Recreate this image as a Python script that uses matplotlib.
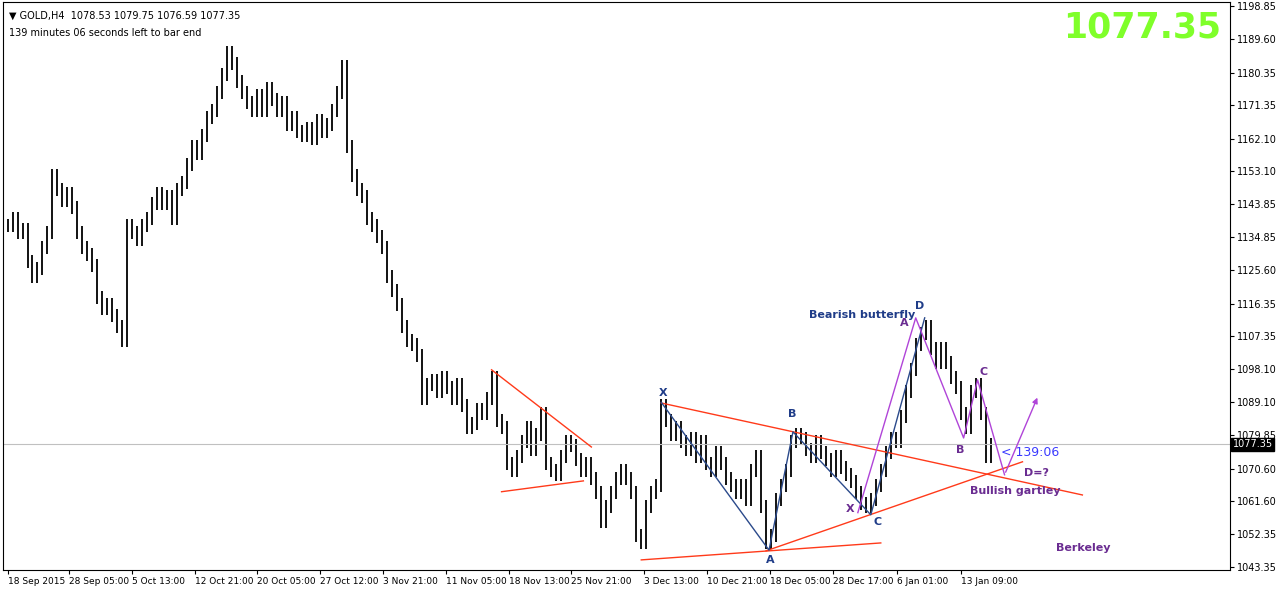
import numpy as np
import matplotlib.pyplot as plt

############### Data ###############

# H4 closes of GOLD (one bar per step)
closes = [1138, 1140, 1136, 1137, 1128, 1124, 1126, 1132, 1136, 1152,
          1148, 1145, 1147, 1143, 1136, 1132, 1130, 1127, 1118, 1115,
          1116, 1113, 1110, 1106, 1138, 1136, 1134, 1138, 1140, 1144,
          1147, 1144, 1146, 1140, 1148, 1150, 1155, 1160, 1158, 1163,
          1168, 1170, 1175, 1180, 1186, 1183, 1178, 1175, 1172, 1170,
          1174, 1170, 1176, 1173, 1170, 1172, 1166, 1168, 1164, 1163,
          1165, 1162, 1167, 1164, 1166, 1170, 1175, 1182, 1160, 1152,
          1148, 1146, 1140, 1138, 1135, 1132, 1124, 1120, 1116, 1110,
          1106, 1105, 1102, 1090, 1094, 1095, 1092, 1096, 1093, 1090,
          1094, 1088, 1082, 1083, 1087, 1086, 1090, 1096, 1084, 1082,
          1072, 1070, 1074, 1078, 1082, 1076, 1080, 1086, 1072, 1070,
          1069, 1074, 1078, 1077, 1073, 1070, 1072, 1068, 1064, 1056,
          1060, 1064, 1068, 1070, 1068, 1064, 1052, 1050, 1060, 1064,
          1066, 1088, 1084, 1080, 1082, 1078, 1076, 1079, 1074, 1078,
          1072, 1070, 1075, 1072, 1068, 1066, 1064, 1066, 1062, 1070,
          1074, 1060, 1050, 1052, 1062, 1066, 1070, 1078, 1080, 1079,
          1076, 1074, 1078, 1075, 1073, 1070, 1074, 1071, 1069, 1067,
          1064, 1061, 1060, 1062, 1066, 1070, 1075, 1079, 1078, 1085,
          1092, 1098, 1105, 1108, 1110, 1104, 1100, 1104, 1100, 1096,
          1093, 1086, 1082, 1092, 1094, 1086, 1074, 1077.35]
wick = 1.8
last_price = 1077.35

date_ticks = [0, 12.4, 25, 37.6, 50, 62.6, 75.2, 87.8, 100.4, 113,
              127.6, 140.2, 152.8, 165.4, 178.2, 191]
date_labels = ["18 Sep 2015", "28 Sep 05:00", "5 Oct 13:00", "12 Oct 21:00",
               "20 Oct 05:00", "27 Oct 12:00", "3 Nov 21:00", "11 Nov 05:00",
               "18 Nov 13:00", "25 Nov 21:00", "3 Dec 13:00", "10 Dec 21:00",
               "18 Dec 05:00", "28 Dec 17:00", "6 Jan 01:00", "13 Jan 09:00"]
price_ticks = [1198.85, 1189.60, 1180.35, 1171.35, 1162.10, 1153.10, 1143.85,
               1134.85, 1125.60, 1116.35, 1107.35, 1098.10, 1089.10, 1079.85,
               1070.60, 1061.60, 1052.35, 1043.35]

# trend lines (bar, price) pairs
red_lines = [[(97, 1098), (117, 1076.6)],
             [(99, 1064.2), (115.4, 1067.2)],
             [(131, 1088.8), (215.4, 1063.3)],
             [(127, 1045.3), (175, 1050)],
             [(152, 1047.8), (203.4, 1072.5)]]
butterfly_bars = [131, 152.6, 157.4, 173, 183.8]
butterfly_px = [1089, 1048, 1080.8, 1057.8, 1112.4]
gartley_bars = [170.4, 182, 191.6, 194.4, 199.8]
gartley_px = [1058.4, 1112.4, 1079.1, 1095.2, 1068.9]
arrow_end = (206.6, 1091)

############### Plot ###############

fig = plt.figure(figsize=(12.8, 5.93), dpi=100)
ax = fig.add_axes([0.002, 0.0388, 0.959, 0.9578])

c = np.array(closes, dtype=float)
o = np.concatenate([[c[0]], c[:-1]])
hi = np.maximum(o, c) + wick
lo = np.minimum(o, c) - wick
x = np.arange(len(c))
ax.vlines(x, lo, hi, color="black", lw=1.3)

ax.axhline(last_price, color="#c0c0c0", lw=0.8)

for ln in red_lines:
    xs, ys = zip(*ln)
    ax.plot(xs, ys, color="#ff3a1a", lw=1)
ax.plot(butterfly_bars, butterfly_px, color="#2b4a8b", lw=1)
ax.plot(gartley_bars, gartley_px, color="#b044d8", lw=1)
ax.annotate("", xy=arrow_end, xytext=(gartley_bars[-1], gartley_px[-1]),
            arrowprops=dict(arrowstyle="-|>", color="#b044d8", lw=1, mutation_scale=8))

navy = "#1f3c88"
purple = "#6a2c91"
lab = dict(fontsize=8, fontweight="bold", ha="center", va="center")
for t, xx, yy in [("X", 131.4, 1091.7), ("A", 152.8, 1045.2), ("B", 157.2, 1085.7),
                  ("C", 174.4, 1055.9), ("D", 182.8, 1115.6)]:
    ax.text(xx, yy, t, color=navy, **lab)
ax.text(171.2, 1113.3, "Bearish butterfly", color=navy, **lab)
for t, xx, yy in [("X", 168.8, 1059.5), ("A", 179.8, 1110.9), ("B", 191, 1075.8),
                  ("C", 195.6, 1097.5), ("D=?", 206.2, 1069.4)]:
    ax.text(xx, yy, t, color=purple, **lab)
ax.text(202, 1064.5, "Bullish gartley", color=purple, **lab)
ax.text(215.6, 1048.6, "Berkeley", color=purple, **lab)
ax.text(199, 1075.2, "< 139:06", color="#3a3aff", fontsize=9, ha="left", va="center")

ax.text(0.005, 0.985, "\u25bc GOLD,H4  1078.53 1079.75 1076.59 1077.35",
        transform=ax.transAxes, fontsize=7, va="top")
ax.text(0.005, 0.955, "139 minutes 06 seconds left to bar end",
        transform=ax.transAxes, fontsize=7, va="top")
ax.text(0.993, 0.955, "1077.35", transform=ax.transAxes, fontsize=25,
        fontweight="bold", color="#7fff2a", ha="right", va="center")

ax.set_xlim(-1, 245)
ax.set_ylim(1042.5, 1199.96)
ax.yaxis.tick_right()
ax.set_yticks(price_ticks)
ax.set_yticklabels([f"{p:.2f}" for p in price_ticks], fontsize=7)
ax.set_xticks(date_ticks)
ax.set_xticklabels(date_labels, fontsize=6.5, ha="left")
ax.tick_params(axis="both", length=3, pad=2)
ax.text(1.002, (last_price - 1042.5) / (1199.96 - 1042.5), f"{last_price:.2f}",
        transform=ax.transAxes, fontsize=7, color="white", va="center", ha="left",
        bbox=dict(facecolor="black", edgecolor="black", pad=1.2))
for s in ax.spines.values():
    s.set_linewidth(0.8)

fig.savefig("out.png", dpi=100)
